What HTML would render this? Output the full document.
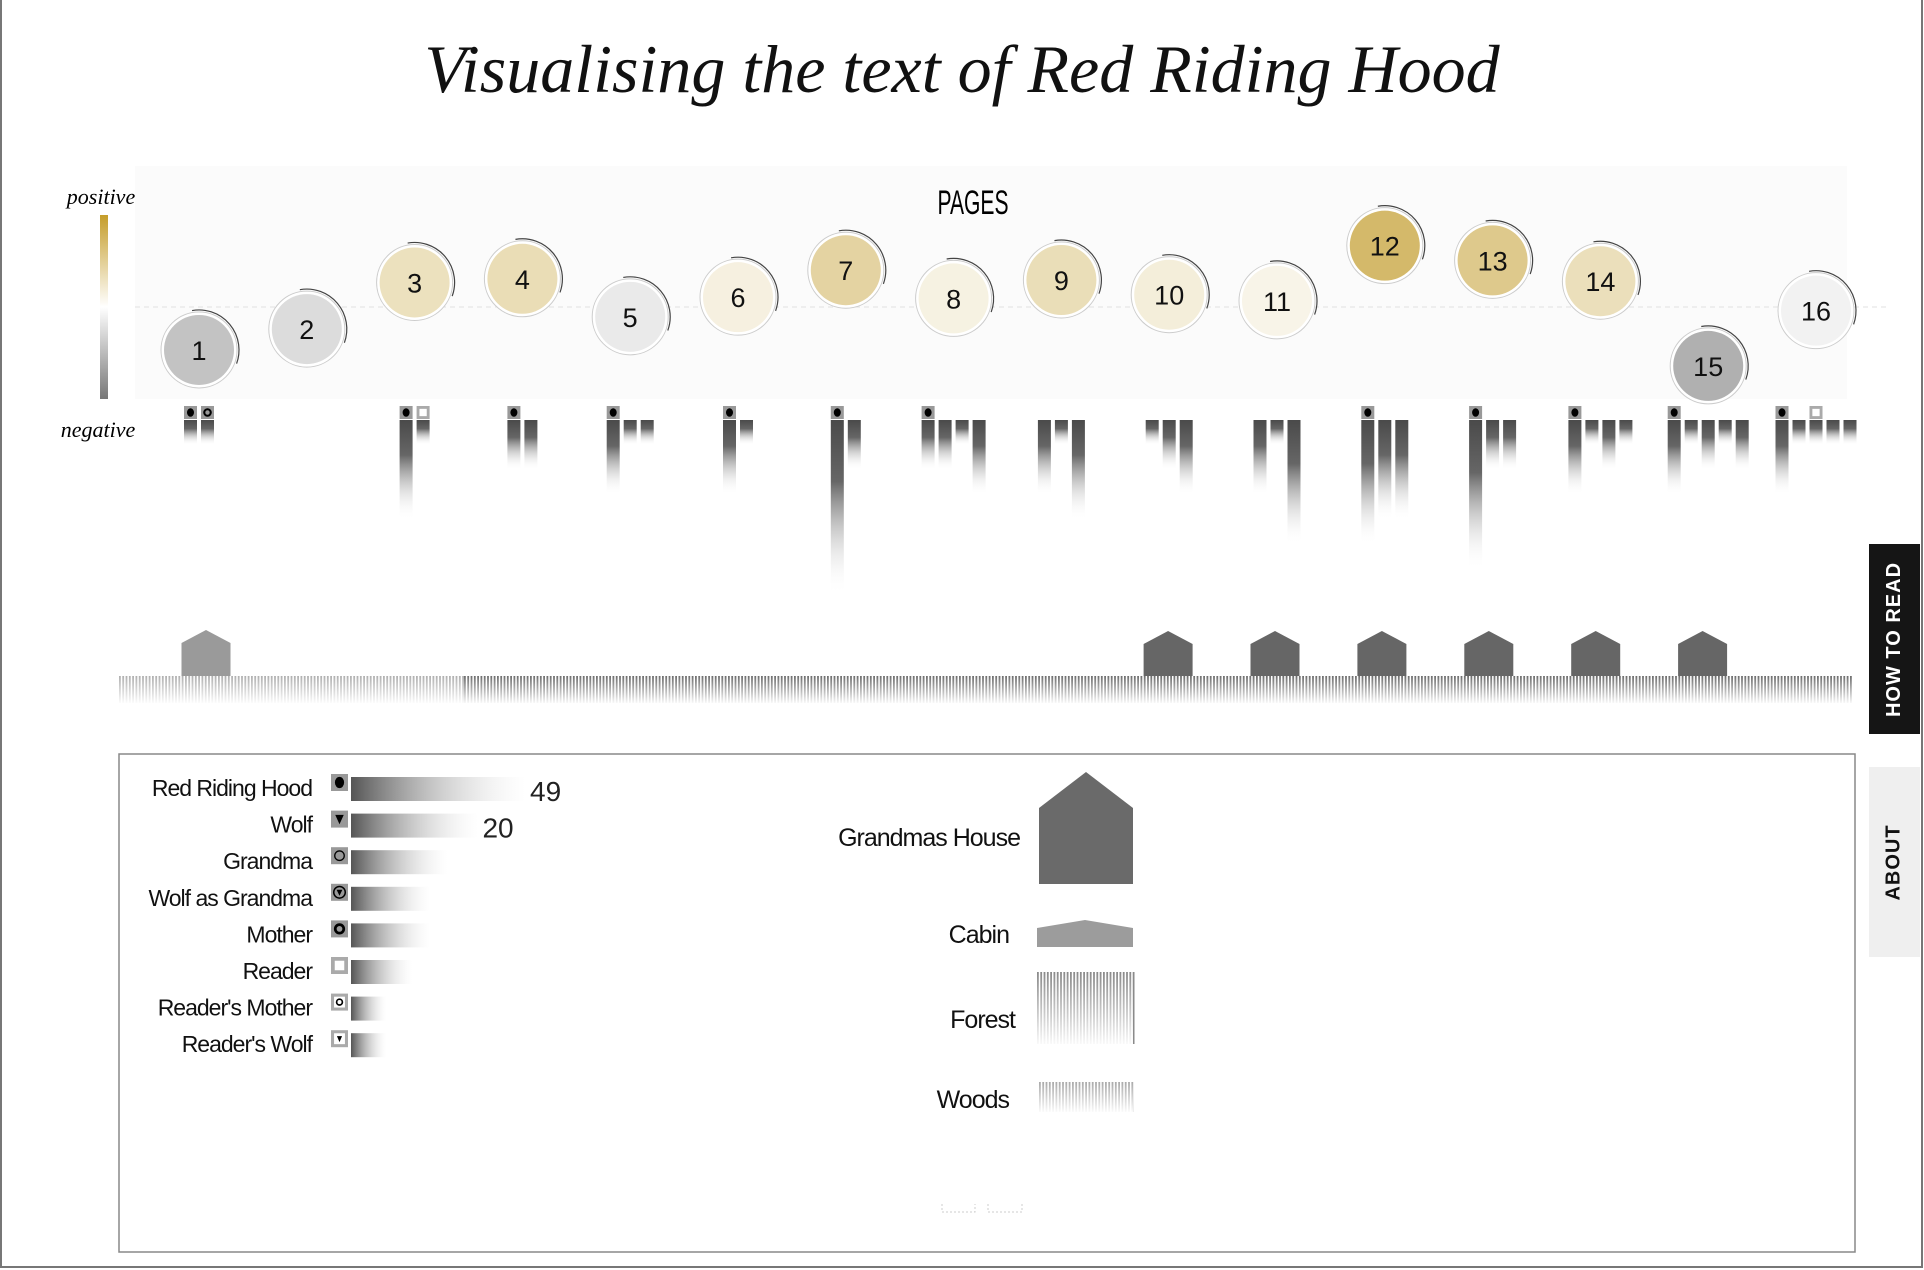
<!DOCTYPE html>
<html><head><meta charset="utf-8">
<style>
html,body{margin:0;padding:0;background:#fff;}
body{width:1924px;height:1270px;position:relative;overflow:hidden;font-family:"Liberation Sans",sans-serif;}
#frame{position:absolute;left:0;top:0;width:1919px;height:1266px;border-left:2px solid #777;border-right:2px solid #777;border-bottom:2px solid #777;}
#title{position:absolute;left:0;width:1924px;top:30px;text-align:center;font-family:"Liberation Serif",serif;font-style:italic;font-size:68px;color:#111;}
svg{position:absolute;left:0;top:0;}
.tab{position:absolute;left:1869px;width:51px;display:flex;align-items:center;justify-content:center;}
.tab span{transform:rotate(-90deg);white-space:nowrap;font-weight:bold;font-size:20px;letter-spacing:1px;}
</style></head>
<body>
<div id="frame"></div>
<div id="title">Visualising the text of Red Riding Hood</div>
<div class="tab" style="top:544px;height:190px;background:#151515;color:#fff;"><span>HOW TO READ</span></div>
<div class="tab" style="top:767px;height:190px;background:#efefef;color:#111;"><span>ABOUT</span></div>
<svg id="chart" width="1924" height="1270"></svg>
<script>
// ---- data ----
const pages = [1,2,3,4,5,6,7,8,9,10,11,12,13,14,15,16];
const sentiment = [-35,-18,20,23,-8,8,30,7,22,10,5,50,38,21,-48,-3];
const pageBars = [[1,1],[],[4,1],[2,2],[3,1,1],[3,1],[7,2],[2,2,1,3],[3,1,4],[1,2,3],[3,1,5],[5,4,4],[6,2,2],[3,1,2,1],[3,1,2,1,2],[3,1,1,1,1]];
const pageIcons = [["rrh","mother"],[],["rrh","reader"],["rrh"],["rrh"],["rrh"],["rrh"],["rrh"],[],[],[],["rrh"],["rrh"],["rrh"],["rrh"],["rrh","","reader"]];
const housePages = [10,11,12,13,14,15];
const cabinPages = [1];
const characters = ["Red Riding Hood","Wolf","Grandma","Wolf as Grandma","Mother","Reader","Reader's Mother","Reader's Wolf"];
const charIcons = ["rrh","wolf","grandma","wolfgrandma","mother","reader","rmother","rwolf"];
const charCounts = [49,26,15,10,10,6,2,2];
const charShown = ["49","20","","","","","",""];
const settingNames = ["Grandmas House","Cabin","Forest","Woods"];

// ---- scales ----
const X0 = 199, XSTEP = 107.8, BASE = 307, YS = 1.227, UNIT = 25, BPITCH = 17;
const px = p => X0 + (p-1)*XSTEP;
const hx = p => 206 + (p-1)*106.9;
const py = v => BASE - v*YS;
const lw = c => 25*Math.sqrt(c);
const NS = "http://www.w3.org/2000/svg";
const svg = document.getElementById('chart');
function mk(tag, attrs, parent){const e=document.createElementNS(NS,tag);for(const k in attrs)e.setAttribute(k,attrs[k]);(parent||svg).appendChild(e);return e;}
function lerp(a,b,t){return Math.round(a+(b-a)*t);}
function sentColor(v){
  if(v>=0){const t=Math.min(1,v/50);return `rgb(${lerp(252,212,t)},${lerp(251,185,t)},${lerp(246,106,t)})`;}
  const t=Math.min(1,-v/48);const c=lerp(246,176,t);return `rgb(${c},${c},${c})`;
}

// defs
const defs = mk('defs',{});
const gv = mk('linearGradient',{id:'barGrad',x1:0,y1:0,x2:0,y2:1},defs);
mk('stop',{offset:'0','stop-color':'#4a4a4a'},gv);mk('stop',{offset:'0.35','stop-color':'#666'},gv);mk('stop',{offset:'1','stop-color':'#fff','stop-opacity':'0'},gv);
const gh = mk('linearGradient',{id:'legGrad',x1:0,y1:0,x2:1,y2:0},defs);
mk('stop',{offset:'0','stop-color':'#555'},gh);mk('stop',{offset:'1','stop-color':'#fff','stop-opacity':'0.2'},gh);
const gs = mk('linearGradient',{id:'scaleGrad',x1:0,y1:0,x2:0,y2:1},defs);
mk('stop',{offset:'0','stop-color':'#c59d2a'},gs);mk('stop',{offset:'0.5','stop-color':'#fff'},gs);mk('stop',{offset:'1','stop-color':'#777'},gs);
const gf = mk('linearGradient',{id:'fadeDown',x1:0,y1:0,x2:0,y2:1},defs);
mk('stop',{offset:'0','stop-color':'#fff','stop-opacity':'0'},gf);mk('stop',{offset:'1','stop-color':'#fff','stop-opacity':'0.95'},gf);

// panel background
const panel = mk('rect',{x:135,y:166,width:1712,height:233,fill:'#fbfbfb'});


const bl = mk('line',{x1:135,x2:1890,y1:BASE,y2:BASE,stroke:'#e2e2e2','stroke-dasharray':'5 4'});



// sentiment scale legend
const sc = mk('rect',{x:100,y:215,width:8,height:184,fill:'url(#scaleGrad)'});


const tp = mk('text',{x:101,y:204,'text-anchor':'middle','font-family':'Liberation Serif, serif','font-style':'italic','font-size':22});
tp.textContent='positive';


const tn = mk('text',{x:98,y:437,'text-anchor':'middle','font-family':'Liberation Serif, serif','font-style':'italic','font-size':22});
tn.textContent='negative';


const pt = mk('text',{x:973,y:214,'text-anchor':'middle','font-size':34,transform:'translate(973,0) scale(0.62,1) translate(-973,0)'});
pt.textContent='PAGES';



function drawIcon(kind,x,y,s,parent){
  const bg = (kind==='reader'||kind==='rmother'||kind==='rwolf')?'#aaa':'#999';
  mk('rect',{x:x,y:y,width:s,height:s,fill:bg},parent);
  const cx=x+s/2,cy=y+s/2;
  if(kind==='rrh') mk('ellipse',{cx:cx,cy:cy,rx:s*0.27,ry:s*0.33,fill:'#000'},parent);
  else if(kind==='mother') mk('circle',{cx:cx,cy:cy,r:s*0.25,fill:'none',stroke:'#000','stroke-width':s*0.16},parent);
  else if(kind==='grandma') mk('circle',{cx:cx,cy:cy,r:s*0.28,fill:'none',stroke:'#000','stroke-width':1.3},parent);
  else if(kind==='wolf') mk('path',{d:`M${x+s*0.25} ${y+s*0.25}L${x+s*0.75} ${y+s*0.25}L${cx} ${y+s*0.8}Z`,fill:'#000'},parent);
  else if(kind==='wolfgrandma'){mk('circle',{cx:cx,cy:cy,r:s*0.34,fill:'none',stroke:'#000','stroke-width':1.5},parent);mk('path',{d:`M${x+s*0.33} ${y+s*0.35}L${x+s*0.67} ${y+s*0.35}L${cx} ${y+s*0.7}Z`,fill:'#000'},parent);}
  else if(kind==='reader') mk('rect',{x:x+s*0.22,y:y+s*0.22,width:s*0.56,height:s*0.56,fill:'#fff'},parent);
  else if(kind==='rmother'){mk('rect',{x:x+s*0.18,y:y+s*0.18,width:s*0.64,height:s*0.64,fill:'#fff'},parent);mk('circle',{cx:cx,cy:cy,r:s*0.17,fill:'none',stroke:'#000','stroke-width':s*0.1},parent);}
  else if(kind==='rwolf'){mk('rect',{x:x+s*0.18,y:y+s*0.18,width:s*0.64,height:s*0.64,fill:'#fff'},parent);mk('path',{d:`M${x+s*0.35} ${y+s*0.35}L${x+s*0.65} ${y+s*0.35}L${cx} ${y+s*0.7}Z`,fill:'#000'},parent);}
}

// page circles
pages.forEach((p,i)=>{
  const g = mk('g',{});
  
  
  const cx=px(p), cy=py(sentiment[i]);
  mk('circle',{cx:cx,cy:cy,r:38,fill:'#fff',stroke:'#ccc','stroke-width':1},g);
  mk('circle',{cx:cx,cy:cy,r:35,fill:sentColor(sentiment[i])},g);
  const r=40, a1=-100*Math.PI/180, a2=20*Math.PI/180;
  mk('path',{d:`M${cx+r*Math.cos(a1)} ${cy+r*Math.sin(a1)} A${r} ${r} 0 0 1 ${cx+r*Math.cos(a2)} ${cy+r*Math.sin(a2)}`,fill:'none',stroke:'#444','stroke-width':1.2},g);
  const t = mk('text',{x:cx,y:cy+10,'text-anchor':'middle','font-size':27,fill:'#111'},g);
  t.textContent=String(p);
});

// character bars per page (centered on page)
pageBars.forEach((bars,i)=>{
  const p=pages[i];
  const start = px(p) - (bars.length*BPITCH-4)/2;
  bars.forEach((n,j)=>{
    const x = start + j*BPITCH;
    const b = mk('rect',{x:x,y:420,width:13,height:n*UNIT,fill:'url(#barGrad)'});
    
    
    const ic = pageIcons[i][j];
    if(ic){ const g=mk('g',{}); drawIcon(ic,x,406,13,g);
      
       }
  });
});

// settings
function housePath(x,w,top,bot,roof){return `M${x} ${bot}L${x} ${top+roof}L${x+w/2} ${top}L${x+w} ${top+roof}L${x+w} ${bot}Z`;}
housePages.forEach(p=>{
  const h=mk('path',{d:housePath(hx(p)-24.5,49,631,676,13),fill:'#666'});
  
  
});
cabinPages.forEach(p=>{
  const h=mk('path',{d:housePath(hx(p)-24.5,49,630,676,13),fill:'#9a9a9a'});
  
  
});
function stripes(x,y,w,h,color,name,pitch){
  const g=mk('g',{});
  
  
  for(let xx=x; xx<x+w; xx+=pitch) mk('rect',{x:xx,y:y,width:1.8,height:h,fill:color},g);
  mk('rect',{x:x,y:y,width:w,height:h,fill:'url(#fadeDown)'},g);
}
stripes(119,676,345,27,'#b0b0b0','woods-strip',3.3);
stripes(464,676,1389,27,'#6e6e6e','forest-strip',3.3);

// legend box
const lb = mk('rect',{x:119,y:754,width:1736,height:498,fill:'none',stroke:'#888','stroke-width':1.5});


const legFont='Liberation Sans Narrow, Liberation Sans, sans-serif';
characters.forEach((c,i)=>{
  const y = 789 + i*36.6;
  const g=mk('g',{});
  
  
  const t=mk('text',{x:312,y:y+7,'text-anchor':'end','font-family':legFont,'font-size':23,fill:'#111','letter-spacing':'-1'},g);
  t.textContent=c;
  drawIcon(charIcons[i],331,y-15,17,g);
  const w = lw(charCounts[i]);
  mk('rect',{x:351,y:y-12,width:w,height:24,fill:'url(#legGrad)'},g);
  if(charShown[i]){const v=mk('text',{x:351+w+4,y:y+12,'font-family':legFont,'font-size':28,fill:'#222'},g);v.textContent=charShown[i];}
});
// setting legend
const sy=[838,935,1020,1100];
const sx=[1020,1009,1015,1009];
settingNames.forEach((s,i)=>{
  const t=mk('text',{x:sx[i],y:sy[i]+8,'text-anchor':'end','font-family':legFont,'font-size':25,fill:'#111','letter-spacing':'-1'});
  t.textContent=s;
  
  
});
const bh=mk('path',{d:housePath(1039,94,772,884,36),fill:'#6a6a6a'});


const bc=mk('path',{d:housePath(1037,96,920,947,8),fill:'#9c9c9c'});


stripes(1037,972,96,72,'#8a8a8a','legend-forest',3.3);
stripes(1039,1082,94,30,'#aaa','legend-woods',3.3);
mk('path',{d:'M942 1204 L942 1212 L975 1212 L975 1204 M988 1204 L988 1212 L1022 1212 L1022 1204',fill:'none',stroke:'#ccc','stroke-dasharray':'2 2'});
</script>
</body></html>
